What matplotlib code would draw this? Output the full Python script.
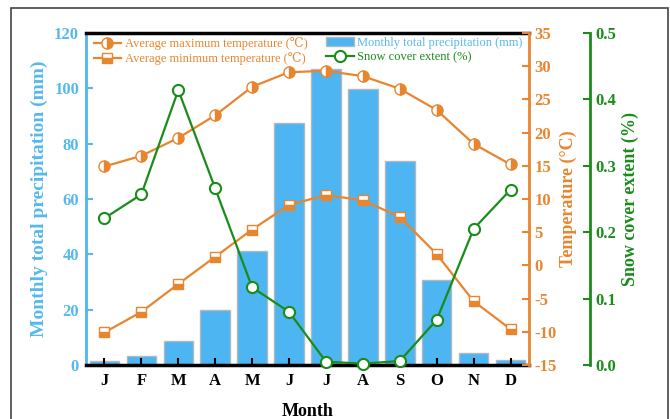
import matplotlib
matplotlib.use("Agg")
import matplotlib.pyplot as plt
from matplotlib.patches import Rectangle
import numpy as np

months = ["J", "F", "M", "A", "M", "J", "J", "A", "S", "O", "N", "D"]
precip = [1.3, 3.4, 8.8, 20.0, 41.3, 87.5, 107.0, 99.8, 73.6, 30.8, 4.5, 1.8]
tmax = [14.9, 16.5, 19.2, 22.6, 26.9, 29.1, 29.3, 28.5, 26.6, 23.4, 18.3, 15.2]
tmin = [-10.1, -7.0, -2.8, 1.3, 5.4, 9.1, 10.6, 9.8, 7.3, 1.7, -5.4, -9.6]
snow = [0.221, 0.257, 0.414, 0.266, 0.117, 0.080, 0.005, 0.002, 0.006, 0.068, 0.205, 0.264]

BLUE = "#4DB5F2"
BLUE_T = "#55B9EE"
ORANGE = "#E8852F"
GREEN = "#1A8C1A"
FONT = ["Liberation Serif", "DejaVu Serif"]

plt.rcParams["font.family"] = FONT
plt.rcParams["axes.unicode_minus"] = False

fig = plt.figure(figsize=(6.7, 4.19), dpi=100)
ax = fig.add_axes([86/670, 1-365/419, (529-86)/670, (365-33)/419])
x = np.arange(len(months))

bars = ax.bar(x, precip, width=0.8, color=BLUE, edgecolor="#B0B8C0", linewidth=1.0,
              label="Monthly total precipitation (mm)", zorder=1)
ax.set_xlim(-0.5, 11.5)
ax.set_ylim(0, 120)
ax.set_yticks([0, 20, 40, 60, 80, 100, 120])
ax.set_xticks(x)
ax.set_xticklabels(months)
ax.tick_params(axis="y", direction="in", colors=BLUE_T, labelsize=12, length=5, width=1.5, pad=5)
ax.tick_params(axis="x", direction="in", colors="black", labelsize=12, length=5, width=1.5, pad=6)
for lab in ax.get_xticklabels() + ax.get_yticklabels():
    lab.set_fontweight("bold")
ax.spines["left"].set_color(BLUE)
ax.spines["left"].set_linewidth(2)
ax.spines["top"].set_linewidth(2.5)
ax.spines["bottom"].set_linewidth(2.5)
ax.spines["right"].set_visible(False)
ax.set_ylabel("Monthly total precipitation (mm)", color=BLUE_T, fontsize=14, fontweight="bold", labelpad=4)
ax.set_xlabel("Month", fontsize=13, fontweight="bold", labelpad=10)

ax2 = ax.twinx()
ax2.set_ylim(-15, 35)
ax2.set_yticks(np.arange(-15, 36, 5))
l1, = ax2.plot(x, tmax, color=ORANGE, lw=1.6, marker="o", ms=8, fillstyle="right",
               markerfacecoloralt="white", markerfacecolor=ORANGE, markeredgecolor=ORANGE,
               markeredgewidth=1.0, label="Average maximum temperature (\u2103)", zorder=3)
l2, = ax2.plot(x, tmin, color=ORANGE, lw=1.6, marker="s", ms=7, fillstyle="bottom",
               markerfacecoloralt="white", markerfacecolor=ORANGE, markeredgecolor=ORANGE,
               markeredgewidth=1.0, label="Average minimum temperature (\u2103)", zorder=3)
ax2.tick_params(axis="y", direction="in", colors=ORANGE, labelsize=12, length=5, width=1.5, pad=4)
for lab in ax2.get_yticklabels():
    lab.set_fontweight("bold")
for s in ["left", "top", "bottom"]:
    ax2.spines[s].set_visible(False)
ax2.spines["right"].set_color(ORANGE)
ax2.spines["right"].set_linewidth(2)
ax2.set_ylabel("Temperature (\u00b0C)", color=ORANGE, fontsize=13, fontweight="bold", labelpad=2)

ax3 = ax.twinx()
ax3.spines["right"].set_position(("outward", 44))
ax3.set_ylim(0, 0.5)
ax3.set_yticks([0.0, 0.1, 0.2, 0.3, 0.4, 0.5])
ax3.set_yticklabels(["0.0", "0.1", "0.2", "0.3", "0.4", "0.5"])
l3, = ax3.plot(x, snow, color=GREEN, lw=1.6, marker="o", ms=8, markerfacecolor="white",
               markeredgecolor=GREEN, markeredgewidth=1.5, label="Snow cover extent (%)",
               zorder=4, clip_on=False)
ax3.tick_params(axis="y", direction="in", colors=GREEN, labelsize=12, length=5, width=1.5, pad=4)
for lab in ax3.get_yticklabels():
    lab.set_fontweight("bold")
for s in ["left", "top", "bottom"]:
    ax3.spines[s].set_visible(False)
ax3.spines["right"].set_color(GREEN)
ax3.spines["right"].set_linewidth(2)
ax3.set_ylabel("Snow cover extent (%)", color=GREEN, fontsize=13, fontweight="bold", labelpad=4)

leg1 = ax3.legend(handles=[l1, l2], loc="upper left", bbox_to_anchor=(0.0, 1.01), frameon=False,
                  fontsize=9, handlelength=2.2, handletextpad=0.3, labelspacing=0.2, borderaxespad=0.2)
for t in leg1.get_texts():
    t.set_color(ORANGE)
ax3.add_artist(leg1)
leg2 = ax3.legend(handles=[bars, l3], loc="upper left", bbox_to_anchor=(0.525, 1.01), frameon=False,
                  fontsize=9, handlelength=2.2, handletextpad=0.3, labelspacing=0.2, borderaxespad=0.2)
leg2.get_texts()[0].set_color(BLUE_T)
leg2.get_texts()[1].set_color(GREEN)

fig.patches.append(Rectangle((11/670, -0.05), (668-11)/670, 1.05 - 8/419, transform=fig.transFigure,
                             fill=False, edgecolor="#444444", linewidth=1.2))

fig.savefig("out.png", dpi=100)
